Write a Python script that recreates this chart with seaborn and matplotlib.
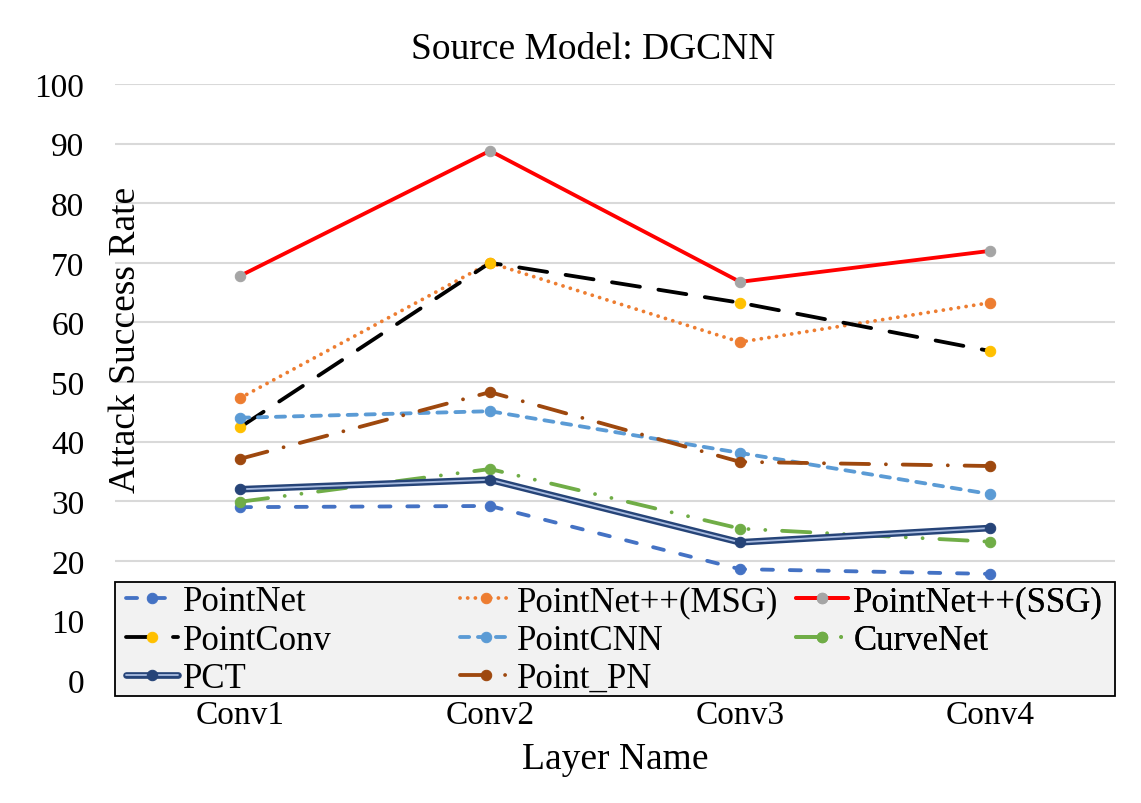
import pandas as pd
import matplotlib.pyplot as plt
import matplotlib.patheffects as pe
from matplotlib.patches import Rectangle
from matplotlib.legend_handler import HandlerTuple
import seaborn as sns

# Values
layers = ["Conv1", "Conv2", "Conv3", "Conv4"]
pointnet = [29.0, 29.2, 18.6, 17.8]
pointnet_msg = [47.3, 70.0, 56.7, 63.3]
pointnet_ssg = [67.8, 88.8, 66.8, 72.0]
pointconv = [42.4, 70.0, 63.3, 55.2]
pointcnn = [44.0, 45.1, 38.1, 31.2]
curvenet = [29.9, 35.4, 25.4, 23.2]
pct = [32.0, 33.6, 23.1, 25.5]
point_pn = [37.1, 48.3, 36.6, 35.9]

models = ["PointNet", "PointNet++(MSG)", "PointNet++(SSG)", "PointConv",
          "PointCNN", "CurveNet", "PCT", "Point_PN"]
series = [pointnet, pointnet_msg, pointnet_ssg, pointconv,
          pointcnn, curvenet, pct, point_pn]

df = pd.DataFrame({
    "Layer": layers * len(models),
    "Rate": [v for s in series for v in s],
    "Model": [m for m in models for _ in layers],
})

# line colour, marker colour, dash pattern (None = solid)
styles = {
    "PointNet": ("#4472C4", "#4472C4", (2.9, 4.4)),
    "PointNet++(MSG)": ("#ED7D31", "#ED7D31", (0.01, 2.0)),
    "PointNet++(SSG)": ("#FF0000", "#A5A5A5", None),
    "PointConv": ("#000000", "#FFC000", (7.4, 4.9)),
    "PointCNN": ("#5B9BD5", "#5B9BD5", (2.4, 2.3)),
    "CurveNet": ("#70AD47", "#70AD47", (7.4, 4.4, 0.01, 4.4, 0.01, 4.4)),
    "PCT": ("#264478", "#264478", None),
    "Point_PN": ("#9E480E", "#9E480E", (7.4, 4.4, 0.01, 4.4)),
}

sns.set_style("white")
plt.rcParams["font.family"] = ["Liberation Serif", "DejaVu Serif"]
for k in ["text.color", "axes.labelcolor", "xtick.color", "ytick.color"]:
    plt.rcParams[k] = "black"

fig = plt.figure(figsize=(11.41, 8.04), dpi=100)
ax = fig.add_axes([115 / 1141, 123 / 804, 1000 / 1141, 596 / 804])

handles = {}
for m in models:
    sub = df[df["Model"] == m]
    color, mcolor, dash = styles[m]
    ls = "-" if dash is None else (0, dash)
    if m == "PCT":
        # double line: dark outline with a lighter core, markers drawn on top
        sns.lineplot(data=sub, x="Layer", y="Rate", ax=ax, color="#A9BCE0",
                     linewidth=1.3, sort=False, errorbar=None, zorder=3)
        line = ax.lines[-1]
        line.set_path_effects([pe.Stroke(linewidth=4.8, foreground=color), pe.Normal()])
        sns.lineplot(data=sub, x="Layer", y="Rate", ax=ax, color=color,
                     linestyle="", marker="o", markersize=7.5,
                     markeredgecolor=color, sort=False, errorbar=None, zorder=4)
        handles[m] = (line, ax.lines[-1])
    else:
        sns.lineplot(data=sub, x="Layer", y="Rate", ax=ax, color=color,
                     linewidth=2.75, linestyle=ls, marker="o", markersize=7.5,
                     markerfacecolor=mcolor, markeredgecolor=mcolor,
                     sort=False, errorbar=None, zorder=3)
        line = ax.lines[-1]
        line.set_dash_capstyle("round")
        handles[m] = line

ax.set_xlim(-0.5, 3.5)
ax.set_ylim(0, 100)
ax.set_yticks(range(0, 101, 10))
ax.yaxis.grid(True, color="#D9D9D9", linewidth=1.5)
ax.xaxis.grid(False)
ax.set_axisbelow(True)
sns.despine(ax=ax, left=True, bottom=True)
ax.tick_params(axis="y", length=0, pad=22, labelsize=24)
ax.tick_params(axis="x", length=0, pad=14, labelsize=24)

ax.set_xlabel("Layer Name", fontsize=27)
ax.xaxis.set_label_coords(0.5, -0.103)
ax.set_ylabel("Attack Success Rate", fontsize=27)
ax.yaxis.set_label_coords(0.028, 0.572)

fig.text(593 / 1141, 1 - 50 / 804, "Source Model: DGCNN", fontsize=27,
         ha="center", va="center")

# legend box spanning the bottom of the plot, three columns placed like the original
box = Rectangle((0, -0.0268), 1, 0.191, transform=ax.transAxes, clip_on=False,
                facecolor="#F2F2F2", edgecolor="black", linewidth=1.3, zorder=5)
ax.add_patch(box)

columns = [["PointNet", "PointConv", "PCT"],
           ["PointNet++(MSG)", "PointCNN", "Point_PN"],
           ["PointNet++(SSG)", "CurveNet"]]
col_x = [126, 460, 796]
for names, xpx in zip(columns, col_x):
    leg = ax.legend([handles[m] for m in names], names, loc="upper left",
                    bbox_to_anchor=((xpx - 115) / 1000, 0.1586),
                    fontsize=25, frameon=False, borderaxespad=0, borderpad=0,
                    handlelength=1.5, handletextpad=0.15, labelspacing=0.15,
                    handler_map={tuple: HandlerTuple(ndivide=1)})
    leg.set_zorder(6)
    ax.add_artist(leg)

fig.savefig("out.png", dpi=100)
